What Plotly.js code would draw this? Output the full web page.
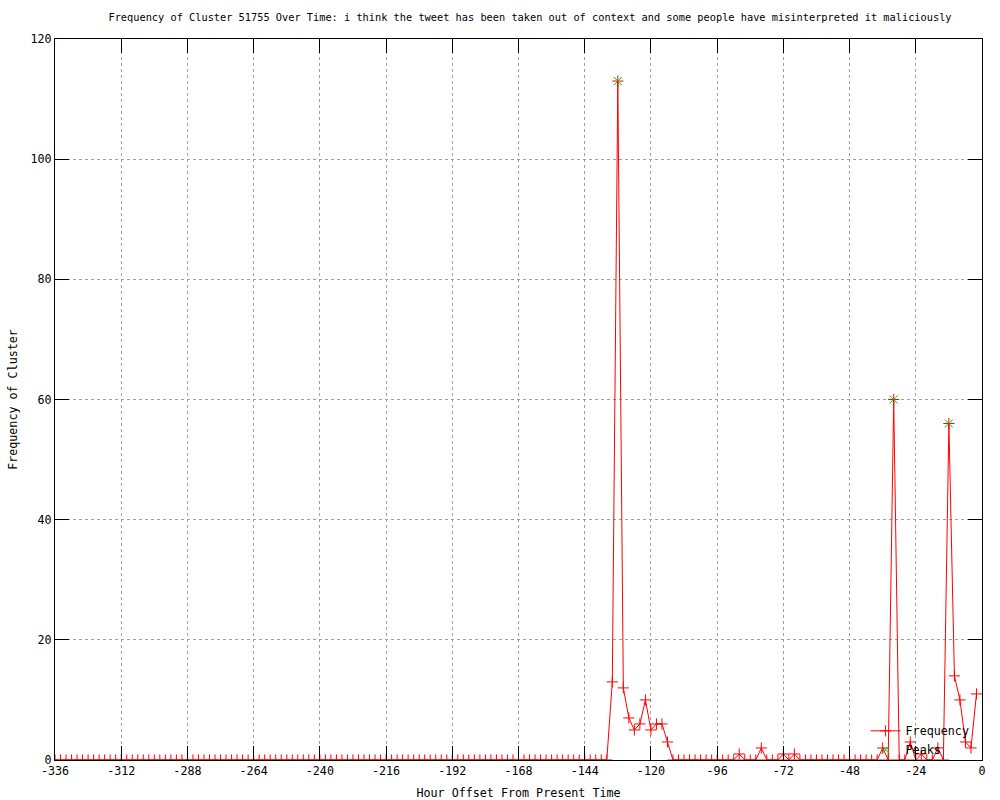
<!DOCTYPE html>
<html>
<head>
<meta charset="utf-8">
<script src="https://cdn.plot.ly/plotly-3.0.1.min.js"></script>
<style>
  html, body { margin: 0; padding: 0; background: #ffffff; }
  #chart { width: 1000px; height: 800px; }
</style>
</head>
<body>
<div id="chart"></div>
<script>
// ---- data ----
const hours = [
  -336,-334,-332,-330,-328,-326,-324,-322,-320,-318,-316,-314,
  -312,-310,-308,-306,-304,-302,-300,-298,-296,-294,-292,-290,
  -288,-286,-284,-282,-280,-278,-276,-274,-272,-270,-268,-266,
  -264,-262,-260,-258,-256,-254,-252,-250,-248,-246,-244,-242,
  -240,-238,-236,-234,-232,-230,-228,-226,-224,-222,-220,-218,
  -216,-214,-212,-210,-208,-206,-204,-202,-200,-198,-196,-194,
  -192,-190,-188,-186,-184,-182,-180,-178,-176,-174,-172,-170,
  -168,-166,-164,-162,-160,-158,-156,-154,-152,-150,-148,-146,
  -144,-142,-140,-138,-136,-134,-132,-130,-128,-126,-124,-122,
  -120,-118,-116,-114,-112,-110,-108,-106,-104,-102,-100,-98,
  -96,-94,-92,-90,-88,-86,-84,-82,-80,-78,-76,-74,
  -72,-70,-68,-66,-64,-62,-60,-58,-56,-54,-52,-50,
  -48,-46,-44,-42,-40,-38,-36,-34,-32,-30,-28,-26,
  -24,-22,-20,-18,-16,-14,-12,-10,-8,-6,-4,-2
];
const frequency = [
  0,0,0,0,0,0,0,0,0,0,0,0,
  0,0,0,0,0,0,0,0,0,0,0,0,
  0,0,0,0,0,0,0,0,0,0,0,0,
  0,0,0,0,0,0,0,0,0,0,0,0,
  0,0,0,0,0,0,0,0,0,0,0,0,
  0,0,0,0,0,0,0,0,0,0,0,0,
  0,0,0,0,0,0,0,0,0,0,0,0,
  0,0,0,0,0,0,0,0,0,0,0,0,
  0,0,0,0,0,13,113,12,7,5,6,10,
  5,6,6,3,0,0,0,0,0,0,0,0,
  0,0,0,0,1,0,0,0,2,0,0,0,
  1,0,1,0,0,0,0,0,0,0,0,0,
  0,0,0,0,0,0,2,0,60,0,0,3,
  0,1,0,0,2,0,56,14,10,3,2,11
];
const peakHours = [-132, -32, -12];
const peakValues = [113, 60, 56];

const xTickVals = [-336,-312,-288,-264,-240,-216,-192,-168,-144,-120,-96,-72,-48,-24,0];
const xTickText = ["-336","-312","-288","-264","-240","-216","-192","-168","-144","-120","-96","-72","-48","-24","0"];
const yTickVals = [0,20,40,60,80,100,120];
const yTickText = ["0","20","40","60","80","100","120"];

const titleText = "Frequency of Cluster 51755 Over Time: i think the tweet has been taken out of context and some people have misinterpreted it maliciously";
const xTitle = "Hour Offset From Present Time";
const yTitle = "Frequency of Cluster";

// ---- styling ----
const FONT = "DejaVu Sans Mono, Liberation Mono, monospace";
const fnt = {family: FONT, size: 11.7, color: "#000000"};
const titleFnt = {family: FONT, size: 10.3, color: "#000000"};

const traces = [
  {
    x: hours, y: frequency, name: "Frequency",
    type: "scatter", mode: "lines+markers",
    line: {color: "#ff0000", width: 1},
    marker: {symbol: "cross-thin-open", size: 8, line: {color: "#ff0000", width: 1}, color: "#ff0000"},
    cliponaxis: true
  },
  {
    x: peakHours, y: peakValues, name: "Peaks",
    type: "scatter", mode: "markers",
    marker: {symbol: "x-thin-open", size: 8, line: {color: "#00c000", width: 1}, color: "#00c000"},
    cliponaxis: false
  }
];

const axisCommon = {
  showline: true, mirror: "ticks", linecolor: "#000000", linewidth: 1,
  ticks: "inside", ticklen: 14, tickwidth: 1, tickcolor: "#000000",
  showgrid: true, gridcolor: "#a0a0a0", griddash: "dot", gridwidth: 1,
  zeroline: false, tickfont: fnt, fixedrange: true
};

const layout = {
  width: 1000, height: 800,
  paper_bgcolor: "#ffffff", plot_bgcolor: "#ffffff",
  margin: {l: 55, r: 18, t: 39, b: 40},
  font: fnt,
  title: {
    text: titleText, font: titleFnt,
    xref: "container", x: 0.53, xanchor: "center",
    yref: "container", y: 0.978, yanchor: "middle"
  },
  xaxis: Object.assign({}, axisCommon, {
    range: [-336, 0],
    tickmode: "array", tickvals: xTickVals, ticktext: xTickText,
    title: {text: xTitle, font: fnt, standoff: 11}
  }),
  yaxis: Object.assign({}, axisCommon, {
    range: [0, 120],
    tickmode: "array", tickvals: yTickVals, ticktext: yTickText,
    title: {text: yTitle, font: fnt, standoff: 10}
  }),
  showlegend: true,
  legend: {
    x: 0.992, xanchor: "right", y: -0.006, yanchor: "bottom",
    bgcolor: "rgba(0,0,0,0)", borderwidth: 0,
    font: fnt, tracegroupgap: 0, itemwidth: 30
  }
};

Plotly.newPlot("chart", traces, layout, {displayModeBar: false, staticPlot: true});
</script>
</body>
</html>
